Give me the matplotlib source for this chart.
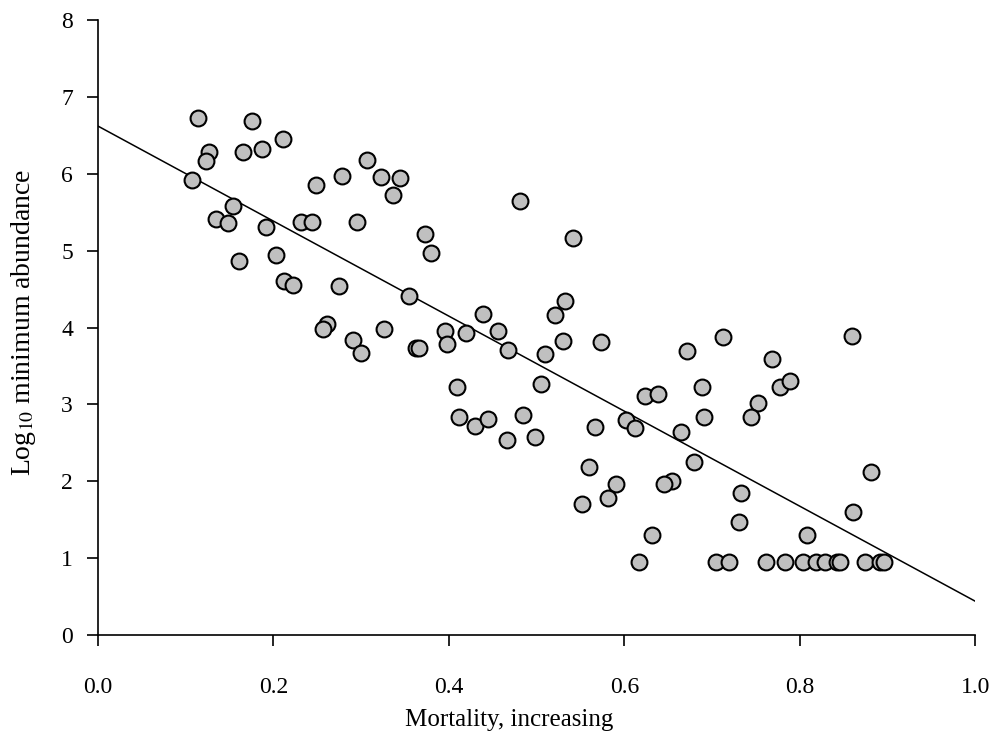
import matplotlib
matplotlib.use('Agg')
import matplotlib.pyplot as plt

plt.rcParams['font.family'] = ['Liberation Serif', 'DejaVu Serif']
plt.rcParams['mathtext.fontset'] = 'stix'

# mortality (x) and log10 minimum abundance (y)
mortality = [0.114, 0.175, 0.211, 0.126, 0.123, 0.165, 0.187, 0.249, 0.107, 0.154,
             0.134, 0.148, 0.192, 0.231, 0.244, 0.161, 0.203, 0.212, 0.222,
             0.307, 0.278, 0.323, 0.344, 0.336, 0.295, 0.373, 0.380, 0.275, 0.354,
             0.261, 0.256, 0.326, 0.396, 0.420, 0.291, 0.300, 0.363, 0.366, 0.398,
             0.481, 0.541, 0.532, 0.521, 0.439, 0.456, 0.467, 0.509, 0.530, 0.573,
             0.505, 0.409, 0.412, 0.430, 0.445, 0.484, 0.466, 0.498, 0.567,
             0.672, 0.713, 0.768, 0.778, 0.789, 0.688, 0.624, 0.638, 0.752, 0.744,
             0.691, 0.602, 0.612, 0.665, 0.679, 0.560, 0.590, 0.581, 0.552, 0.654,
             0.645, 0.733, 0.731, 0.632, 0.859, 0.881, 0.861, 0.808,
             0.617, 0.704, 0.719, 0.762, 0.783, 0.804, 0.818, 0.829, 0.842, 0.846,
             0.874, 0.891, 0.896]
abundance = [6.73, 6.69, 6.45, 6.28, 6.17, 6.28, 6.32, 5.85, 5.92, 5.58,
             5.41, 5.36, 5.31, 5.37, 5.37, 4.86, 4.94, 4.61, 4.55,
             6.18, 5.97, 5.96, 5.95, 5.72, 5.37, 5.22, 4.97, 4.54, 4.41,
             4.04, 3.98, 3.98, 3.95, 3.93, 3.84, 3.67, 3.73, 3.74, 3.78,
             5.64, 5.16, 4.34, 4.16, 4.18, 3.96, 3.71, 3.65, 3.83, 3.81,
             3.26, 3.22, 2.83, 2.72, 2.81, 2.86, 2.54, 2.58, 2.70,
             3.69, 3.88, 3.59, 3.23, 3.30, 3.22, 3.11, 3.14, 3.02, 2.84,
             2.83, 2.80, 2.69, 2.64, 2.25, 2.18, 1.96, 1.78, 1.70, 2.00,
             1.96, 1.85, 1.47, 1.30, 3.89, 2.12, 1.60, 1.30,
             0.95, 0.95, 0.95, 0.95, 0.95, 0.95, 0.95, 0.95, 0.95, 0.95,
             0.95, 0.95, 0.95]

# fitted regression line end points
fit_x = [0.0, 1.0]
fit_y = [6.62, 0.44]

fig = plt.figure(figsize=(9.94, 7.41), dpi=100)
ax = fig.add_axes([0.0986, 0.143, 0.8825, 0.830])

ax.plot(fit_x, fit_y, color='black', linewidth=1.1, zorder=2)
ax.scatter(mortality, abundance, s=130, facecolor='#c0c0c0', edgecolor='black',
           linewidth=1.5, zorder=3, clip_on=False)

ax.set_xlim(0, 1.0)
ax.set_ylim(0, 8)
ax.set_xticks([0.0, 0.2, 0.4, 0.6, 0.8, 1.0])
ax.set_xticklabels(['0.0', '0.2', '0.4', '0.6', '0.8', '1.0'])
ax.set_yticks(range(0, 9))

for side in ['top', 'right']:
    ax.spines[side].set_visible(False)
for side in ['left', 'bottom']:
    ax.spines[side].set_linewidth(1.2)

ax.tick_params(axis='both', direction='out', length=8, width=1.2, labelsize=17, pad=10)
ax.tick_params(axis='x', pad=22)

ax.set_xlabel('Mortality, increasing', fontsize=18)
ax.xaxis.set_label_coords(0.469, -0.12)
ax.set_ylabel('Log$_{10}$ minimum abundance', fontsize=20)
ax.yaxis.set_label_coords(-0.068, 0.509)

fig.savefig('out.png', dpi=100)
plt.close()
